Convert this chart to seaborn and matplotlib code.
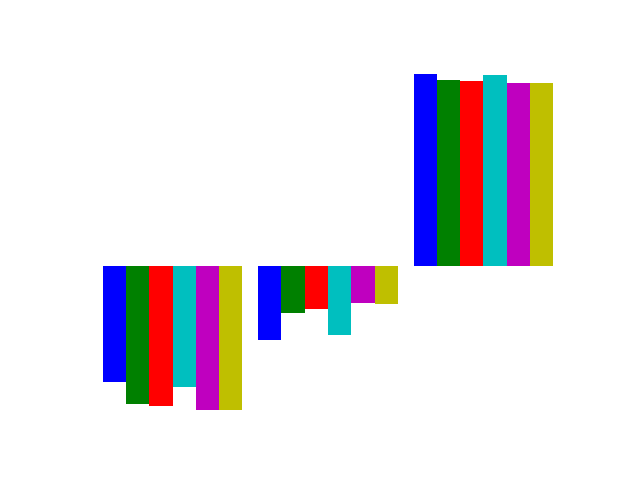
import matplotlib
matplotlib.use("Agg")
import matplotlib.pyplot as plt
import seaborn as sns
import pandas as pd

groups = ["G1", "G2", "G3"]
series = ["s1", "s2", "s3", "s4", "s5", "s6"]
colors = ["b", "g", "r", "c", "m", "y"]
g1_values = [-115.7, -137.7, -139.7, -120.7, -144.0, -144.0]
g2_values = [-74.0, -46.7, -42.7, -69.0, -36.7, -37.7]
g3_values = [192.0, 186.0, 185.0, 191.0, 183.0, 183.0]

rows = []
for g, vals in zip(groups, [g1_values, g2_values, g3_values]):
    for s, v in zip(series, vals):
        rows.append({"group": g, "series": s, "value": v})
df = pd.DataFrame(rows)

fig, ax = plt.subplots(figsize=(6.4, 4.8), dpi=100)
sns.barplot(data=df, x="group", y="value", hue="series", order=groups,
            hue_order=series, palette=colors, saturation=1, width=0.9,
            linewidth=0, errorbar=None, legend=False, ax=ax)
ax.set_autoscalex_on(True)
ax.margins(x=0.05, y=0.05)
ax.relim()
ax.autoscale_view()
ax.axis("off")
fig.savefig("out.png", dpi=100)
